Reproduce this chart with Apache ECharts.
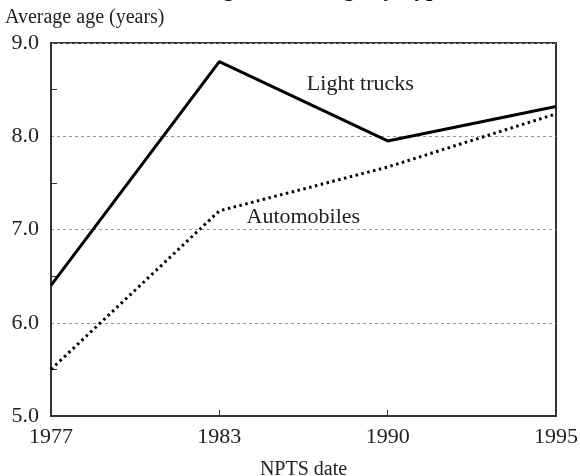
<!DOCTYPE html>
<html>
<head>
<meta charset="utf-8">
<script src="https://cdn.jsdelivr.net/npm/echarts@6/dist/echarts.min.js"></script>
<style>
  html, body { margin: 0; padding: 0; background: #fff; }
  #chart { width: 580px; height: 476px; }
</style>
</head>
<body>
<div id="chart"></div>
<script>
var years = ['1977', '1983', '1990', '1995'];
var lightTrucks = [6.4, 8.8, 7.95, 8.32];
var automobiles = [5.5, 7.2, 7.67, 8.24];

var serif = '"Liberation Serif", "Times New Roman", serif';
var myChart = echarts.init(document.getElementById('chart'));

// label placed next to a data point of its line
function lineLabel(text, idx, values, offset) {
    return {
        symbol: 'circle',
        symbolSize: 0,
        itemStyle: { color: 'transparent' },
        label: { show: true, position: 'inside', fontFamily: serif, fontSize: 22, color: '#222' },
        data: [{
            coord: [years[idx], values[idx]],
            label: { formatter: text, offset: offset }
        }]
    };
}

var option = {
    animation: false,
    backgroundColor: '#fff',
    title: [{
        text: 'Average Vehicle Age by Type',
        right: 131,
        top: -21.5,
        padding: 0,
        textStyle: { fontFamily: serif, fontSize: 23, fontWeight: 'bold', color: '#111' }
    }, {
        text: 'Average age (years)',
        left: 5,
        top: 8,
        padding: 0,
        textStyle: { fontFamily: serif, fontSize: 20, fontWeight: 'normal', color: '#222' }
    }],
    grid: {
        left: 51, right: 24, top: 43, bottom: 60,
        outerBoundsMode: 'none',
        containLabel: false,
        show: true, borderColor: '#333', borderWidth: 2, backgroundColor: 'transparent'
    },
    xAxis: {
        type: 'category',
        data: years,
        boundaryGap: false,
        name: 'NPTS date',
        nameLocation: 'middle',
        nameGap: 44,
        nameTextStyle: { fontFamily: serif, fontSize: 20, color: '#222' },
        axisLine: { lineStyle: { color: '#333', width: 2 } },
        axisTick: { inside: true, length: 6, lineStyle: { color: '#333', width: 1 } },
        axisLabel: { fontFamily: serif, fontSize: 22, color: '#222', margin: 10 },
        splitLine: { show: false }
    },
    yAxis: {
        type: 'value',
        min: 5, max: 9, interval: 1,
        axisLine: { show: true, lineStyle: { color: '#333', width: 2 } },
        axisTick: { show: false, inside: true },
        minorTick: { show: true, splitNumber: 2, length: 6, lineStyle: { color: '#333', width: 1 } },
        axisLabel: {
            fontFamily: serif, fontSize: 22, color: '#222', margin: 12,
            formatter: function (v) { return v.toFixed(1); }
        },
        splitLine: { show: true, lineStyle: { color: '#999', type: [3, 3], width: 1 } }
    },
    series: [{
        name: 'Light trucks',
        type: 'line',
        data: lightTrucks,
        showSymbol: false,
        symbol: 'none',
        lineStyle: { color: '#000', width: 3 },
        markPoint: lineLabel('Light trucks', 1, lightTrucks, [141, 23]),
        z: 3
    }, {
        name: 'Automobiles',
        type: 'line',
        data: automobiles,
        showSymbol: false,
        symbol: 'none',
        lineStyle: { color: '#000', width: 3, type: [2.5, 3.5] },
        markPoint: lineLabel('Automobiles', 1, automobiles, [84, 6]),
        z: 2
    }]
};
myChart.setOption(option);
</script>
</body>
</html>
